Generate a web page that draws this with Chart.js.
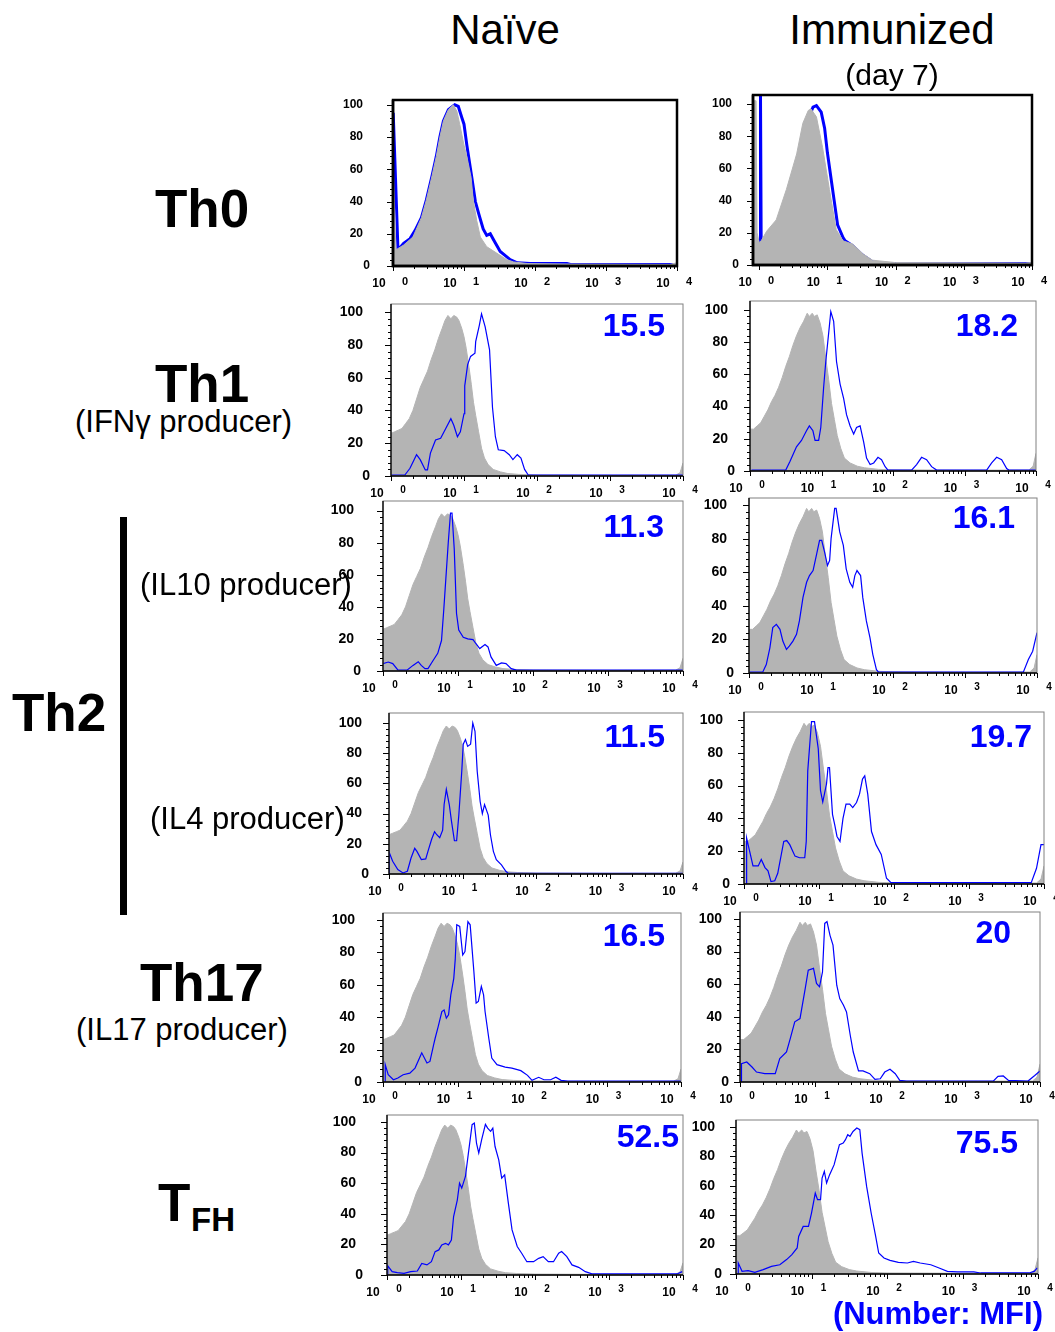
<!DOCTYPE html>
<html>
<head>
<meta charset="utf-8">
<script src="https://cdn.jsdelivr.net/npm/chart.js"></script>
<style>
  body { margin: 0; background: #fff; }
  #fig { position: relative; width: 1055px; height: 1332px; overflow: hidden; background: #fff;
         font-family: "Liberation Sans", Arial, sans-serif; }
  #fig canvas { position: absolute; }
  .lbl { position: absolute; white-space: nowrap; color: #000; }
</style>
</head>
<body>
<div id="fig"></div>
<script>
// x values are in decades (log10 of fluorescence), y is % of max
const yTicks = [0, 20, 40, 60, 80, 100];
const xDecades = [0, 1, 2, 3, 4];
const mfiValues = ['15.5', '18.2', '11.3', '16.1', '11.5', '19.7', '16.5', '20', '52.5', '75.5'];

// isotype control (grey) histograms
const ctrlNaive = [[0,26],[0.05,27],[0.1,28],[0.15,29],[0.2,32],[0.25,35],[0.3,40],[0.35,47],[0.4,54],[0.45,59],[0.5,64],[0.55,71],[0.6,77],[0.65,84],[0.7,90],[0.74,95],[0.78,98],[0.82,96],[0.86,98],[0.9,97],[0.93,95],[0.97,90],[1.0,85],[1.03,78],[1.07,66],[1.1,56],[1.13,45],[1.16,37],[1.2,27],[1.24,17],[1.28,11],[1.33,7],[1.4,4],[1.5,2.5],[1.6,1.5],[1.75,1],[2.0,0.6],[3.0,0.4],[3.9,0.5],[3.96,2],[4.0,8]];
const ctrlImmunized = [[0,26],[0.05,26],[0.1,28],[0.15,30],[0.2,34],[0.25,38],[0.3,43],[0.35,47],[0.4,52],[0.45,58],[0.5,65],[0.55,71],[0.6,78],[0.65,84],[0.7,89],[0.75,93],[0.8,98],[0.83,96],[0.87,98],[0.9,96],[0.94,97],[0.98,92],[1.02,84],[1.06,70],[1.1,57],[1.14,42],[1.18,32],[1.22,22],[1.27,14],[1.32,8],[1.4,5],[1.5,3],[1.6,2],[1.8,1],[2.0,0.7],[3.0,0.5],[3.9,0.6],[3.96,3],[4.0,11]];
const th0NaiveCtrl = [[0,68],[0.02,40],[0.04,10],[0.15,13],[0.28,18],[0.4,30],[0.47,41],[0.55,56],[0.61,68],[0.66,80],[0.71,90],[0.78,97],[0.85,100],[0.9,96],[0.94,88],[1.0,75],[1.04,68],[1.1,55],[1.13,41],[1.18,28],[1.23,18],[1.32,12],[1.46,8],[1.6,4],[1.7,2.5],[1.9,1.5],[2.5,1.2],[3.9,1],[4.0,2]];
const th0ImmCtrl = [[-0.09,102],[-0.045,102],[-0.03,20],[0,14],[0.03,15],[0.11,21],[0.25,28],[0.4,47],[0.55,69],[0.64,88],[0.72,96],[0.76,97],[0.84,92],[0.93,73],[1.03,47],[1.13,22],[1.23,15],[1.37,13],[1.52,7],[1.66,3],[2.0,1.5],[3.9,1.2],[4.0,1.5]];

// stained (blue) histograms
const th0NaiveStim = [[0,0],[0.003,95],[0.07,10],[0.15,14],[0.24,17],[0.31,22],[0.4,30],[0.47,41],[0.55,56],[0.61,68],[0.66,80],[0.71,90],[0.78,97],[0.87,100],[0.92,99],[0.97,92],[1.0,88],[1.04,75],[1.11,55],[1.16,40],[1.21,32],[1.27,23],[1.32,19],[1.37,20],[1.42,16],[1.51,9],[1.65,4],[1.75,2],[1.93,1.5],[2.45,1.5],[2.5,1],[4,1]];
const th0ImmStim = [[0.02,0],[0.02,105],[0.03,13],[0.1,17],[0.25,23],[0.4,41],[0.55,62],[0.64,81],[0.72,91],[0.79,98],[0.84,99],[0.91,95],[0.96,85],[1.0,70],[1.05,55],[1.1,40],[1.15,25],[1.23,17],[1.26,15],[1.37,12],[1.52,6],[1.66,2],[1.8,1],[4.0,1]];
const th1NaiveStim = [[0,0.6],[0.19,0.6],[0.26,4.7],[0.35,13],[0.4,10],[0.47,3.7],[0.5,3.7],[0.54,14],[0.61,22],[0.68,23],[0.75,29],[0.82,35],[0.86,31],[0.91,24],[0.95,27],[1.0,38],[1.01,55],[1.05,68],[1.09,73],[1.15,75],[1.16,82],[1.21,92],[1.24,99],[1.29,91],[1.35,77],[1.39,42],[1.43,24],[1.47,16],[1.55,15.5],[1.62,13],[1.67,10],[1.73,13],[1.78,11],[1.83,4],[1.88,0.6],[4.0,0.5]];
const th1ImmStim = [[0.02,0.6],[0.5,0.6],[0.56,6],[0.65,15],[0.72,19],[0.79,25],[0.83,28],[0.88,25],[0.91,19],[0.96,19],[0.99,27],[1.03,52],[1.06,68],[1.11,90],[1.13,99],[1.17,93],[1.21,68],[1.26,54],[1.31,45],[1.35,35],[1.4,28],[1.45,23],[1.49,27],[1.54,28],[1.59,18],[1.63,8],[1.68,4],[1.73,5],[1.79,8.5],[1.84,7],[1.89,2.7],[1.93,0.6],[2.26,0.6],[2.33,4],[2.4,8.5],[2.47,7],[2.54,2.7],[2.61,0.6],[3.31,0.6],[3.38,5],[3.45,8.5],[3.52,7],[3.59,1.5],[3.62,0.6],[4.0,0.6]];
const il10NaiveStim = [[0,4.6],[0.07,5.6],[0.13,4.6],[0.2,0.5],[0.32,0.5],[0.4,3.5],[0.47,5.8],[0.51,3.5],[0.56,1.5],[0.6,1.5],[0.67,6.7],[0.73,11],[0.78,19],[0.81,38],[0.84,59],[0.87,80],[0.9,98.5],[0.92,98.5],[0.95,76],[0.98,36],[1.01,25.5],[1.07,21],[1.13,20],[1.2,19.6],[1.24,17],[1.29,14],[1.36,16.5],[1.4,15],[1.44,8.8],[1.51,3.5],[1.58,5],[1.64,4.6],[1.71,1.5],[1.78,0.5],[4.0,0.5]];
const il10ImmStim = [[0.01,0.5],[0.19,0.5],[0.24,5],[0.29,15],[0.33,27],[0.38,29],[0.43,26],[0.47,19],[0.52,14],[0.56,16],[0.61,19],[0.66,23],[0.7,31],[0.75,45],[0.8,54],[0.84,58],[0.89,61],[0.94,71],[0.98,79],[1.01,79],[1.05,72],[1.09,64],[1.12,67],[1.14,80],[1.19,98],[1.21,98],[1.26,84],[1.31,76],[1.35,62],[1.4,54],[1.44,51],[1.47,58],[1.5,61],[1.55,58],[1.58,45],[1.63,31],[1.68,21],[1.72,11],[1.77,2],[1.8,0.5],[3.81,0.5],[3.88,8],[3.94,13],[4.0,24]];
const il4NaiveStim = [[0,0],[0.005,14],[0.05,8.4],[0.12,3],[0.19,0.7],[0.25,1.8],[0.3,10.6],[0.35,17],[0.38,15],[0.44,9.5],[0.5,10],[0.53,15],[0.58,23],[0.62,28],[0.65,26],[0.69,24],[0.73,29],[0.75,46],[0.78,56],[0.82,46],[0.85,35],[0.89,22],[0.92,22],[0.95,39],[0.99,68],[1.01,86],[1.04,89],[1.07,84.5],[1.11,86],[1.14,100],[1.17,94.5],[1.2,68],[1.24,48],[1.27,40],[1.3,46],[1.35,39],[1.38,26],[1.42,15],[1.46,9.5],[1.53,6],[1.59,1.8],[1.62,0.5],[4.0,0.5]];
const il4ImmStim = [[0.03,0],[0.035,28],[0.12,11],[0.19,11],[0.23,15],[0.28,10],[0.32,8],[0.36,1.5],[0.41,2],[0.45,6.5],[0.53,26],[0.57,26.5],[0.61,24],[0.68,17],[0.74,16],[0.81,16],[0.83,26],[0.85,69],[0.9,99],[0.94,99],[0.99,82.5],[1.02,57],[1.05,50],[1.1,61],[1.12,71],[1.14,71],[1.18,42.5],[1.21,36],[1.24,29],[1.28,26],[1.32,40],[1.36,48.7],[1.41,48.7],[1.45,46.6],[1.5,49.7],[1.54,54.8],[1.58,64],[1.61,66],[1.65,54.8],[1.7,32],[1.76,24],[1.83,18],[1.9,3.5],[1.96,0.8],[3.83,0.8],[3.9,9.6],[3.96,24],[4.0,24]];
const th17NaiveStim = [[0.03,0],[0.03,10.7],[0.07,4.5],[0.14,1.4],[0.2,2.5],[0.27,4.5],[0.36,5.5],[0.43,8.6],[0.49,14.8],[0.52,18],[0.59,11.7],[0.63,12.7],[0.68,23],[0.7,27],[0.74,34],[0.79,43.5],[0.82,44.5],[0.85,39.4],[0.88,41.5],[0.91,53.8],[0.95,64],[0.97,76],[0.99,97],[1.03,96],[1.07,78.4],[1.1,80.5],[1.14,99],[1.17,97],[1.22,68],[1.25,48.7],[1.28,49.7],[1.32,59],[1.35,53.8],[1.37,43.5],[1.42,27],[1.46,14.8],[1.53,10.7],[1.64,9.2],[1.73,8.6],[1.85,7],[1.94,4.1],[2.0,1],[2.09,2.9],[2.16,1.4],[2.25,1.4],[2.32,2.9],[2.39,1],[2.48,0.5],[4.0,0.5]];
const th17ImmStim = [[0.02,0],[0.02,11.3],[0.09,12.3],[0.16,9.2],[0.22,6.1],[0.33,5.1],[0.47,5.1],[0.53,14.3],[0.62,18.4],[0.67,26.6],[0.73,36.9],[0.8,38.9],[0.87,57.4],[0.91,68.6],[0.98,69.7],[1.02,60.5],[1.06,58.4],[1.1,67.6],[1.13,97.3],[1.16,98.4],[1.2,90],[1.24,84],[1.29,59.4],[1.33,51.2],[1.38,47.1],[1.42,43],[1.47,28.7],[1.51,18.4],[1.58,6.8],[1.64,6.8],[1.73,5.1],[1.8,1.6],[1.87,2],[1.93,6.1],[2.0,7.8],[2.07,5.1],[2.13,1],[2.22,0.6],[3.38,0.6],[3.44,3.5],[3.51,3.7],[3.58,1],[3.84,0.6],[3.93,4],[4.0,6.8]];
const tfhNaiveStim = [[0.01,0],[0.01,6],[0.07,2.2],[0.14,1.5],[0.23,1.1],[0.32,2.2],[0.41,2.6],[0.47,7.6],[0.54,6.6],[0.6,8.7],[0.65,15.3],[0.7,16.4],[0.74,19.7],[0.79,20.7],[0.83,19.7],[0.87,22.9],[0.9,38.2],[0.95,49],[0.98,60],[1.01,56.8],[1.06,64.4],[1.1,79.7],[1.15,98.3],[1.18,99.3],[1.21,86],[1.24,79.7],[1.28,88.6],[1.33,98.5],[1.36,96],[1.4,93.9],[1.43,96],[1.46,84],[1.51,75.3],[1.55,63.3],[1.59,65.5],[1.64,47],[1.69,29.5],[1.76,18.6],[1.82,14.2],[1.89,8.7],[1.98,8.7],[2.05,10.9],[2.11,12],[2.18,8.7],[2.25,8.7],[2.32,14.2],[2.36,15.3],[2.43,12],[2.5,6.6],[2.59,5],[2.68,2.2],[2.77,0.7],[3.92,0.7],[3.99,2.2]];
const tfhImmStim = [[0.03,0],[0.03,7.5],[0.08,1.8],[0.16,2.3],[0.25,1.1],[0.36,3],[0.47,5.2],[0.58,6.3],[0.67,9.8],[0.74,13.2],[0.81,17.7],[0.83,25.6],[0.89,32.4],[0.96,32.4],[1.0,41.5],[1.05,55],[1.08,50.6],[1.12,50.6],[1.14,65.3],[1.17,69.8],[1.2,61.9],[1.24,67.6],[1.27,71],[1.3,74.4],[1.34,82.3],[1.37,88],[1.42,89.1],[1.45,91.4],[1.48,94.8],[1.51,93.7],[1.55,97],[1.6,99.3],[1.64,98.2],[1.67,82.3],[1.73,59.6],[1.79,41.5],[1.85,25.6],[1.89,14.3],[1.96,10.9],[2.04,9.3],[2.15,7.9],[2.27,7.5],[2.35,8.6],[2.44,7.5],[2.58,6.3],[2.69,4.1],[2.8,1.8],[2.93,1.4],[3.15,1.4],[3.24,0.7],[3.88,0.7],[3.95,1.8],[3.99,4.1]];

// panel layout: plot box [left, top, right, bottom] in page pixels
const panels = [
  { box: [393, 100, 677, 266], ymax: 103, xmin: 0, ctrl: th0NaiveCtrl, stim: th0NaiveStim, thick: true, gap: 30 },
  { box: [753, 95, 1032, 265], ymax: 105.6, xmin: -0.09, ctrl: th0ImmCtrl, stim: th0ImmStim, thick: true, gap: 21 },
  { box: [391, 304, 683, 476], ymax: 105, ctrl: ctrlNaive, stim: th1NaiveStim, gap: 28, mfi: 0, mfiAt: [665, 336] },
  { box: [750, 301, 1036, 471], ymax: 105.6, ctrl: ctrlImmunized, stim: th1ImmStim, gap: 22, mfi: 1, mfiAt: [1018, 336] },
  { box: [383, 501, 683, 671], ymax: 106, ctrl: ctrlNaive, stim: il10NaiveStim, gap: 29, mfi: 2, mfiAt: [664, 537] },
  { box: [749, 498, 1037, 673], ymax: 104.2, ctrl: ctrlImmunized, stim: il10ImmStim, gap: 22, mfi: 3, mfiAt: [1015, 528] },
  { box: [389, 713, 683, 874], ymax: 106.6, ctrl: ctrlNaive, stim: il4NaiveStim, gap: 27, mfi: 4, mfiAt: [665, 747] },
  { box: [744, 712, 1044, 884], ymax: 104.9, ctrl: ctrlImmunized, stim: il4ImmStim, gap: 21, mfi: 5, mfiAt: [1032, 747] },
  { box: [383, 913, 681, 1082], ymax: 104.3, ctrl: ctrlNaive, stim: th17NaiveStim, gap: 28, mfi: 6, mfiAt: [665, 946] },
  { box: [740, 912, 1040, 1082], ymax: 104.3, ctrl: ctrlImmunized, stim: th17ImmStim, gap: 18, mfi: 7, mfiAt: [1011, 943] },
  { box: [387, 1115, 683, 1275], ymax: 104.6, ctrl: ctrlNaive, stim: tfhNaiveStim, gap: 31, mfi: 8, mfiAt: [679, 1147] },
  { box: [736, 1120, 1038, 1274], ymax: 104.8, ctrl: ctrlImmunized, stim: tfhImmStim, gap: 21, mfi: 9, mfiAt: [1018, 1153] }
];

const FONT = '"Liberation Sans", Arial, sans-serif';
const PAD = { left: 62, right: 22, top: 12, bottom: 32 };
const fig = document.getElementById('fig');

function label(text, x, baseline, size, opts = {}) {
  const d = document.createElement('div');
  d.className = 'lbl';
  d.textContent = text;
  d.style.fontSize = size + 'px';
  d.style.lineHeight = size + 'px';
  d.style.fontWeight = opts.bold ? 'bold' : 'normal';
  if (opts.color) d.style.color = opts.color;
  d.style.top = (baseline - 0.846 * size) + 'px';
  d.style.left = x + 'px';
  if (opts.align === 'center') d.style.transform = 'translateX(-50%)';
  if (opts.align === 'right') d.style.transform = 'translateX(-100%)';
  fig.appendChild(d);
}

// axes, frame and tick labels drawn from the chart's own scales
const facsAxes = {
  id: 'facsAxes',
  afterDatasetsDraw(chart, args, opts) {
    const { ctx, chartArea: a, scales: { x, y } } = chart;
    const thick = opts.thick;
    ctx.save();
    ctx.strokeStyle = thick ? '#000' : '#808080';
    ctx.lineWidth = thick ? 2.5 : 1;
    ctx.strokeRect(a.left, a.top, a.right - a.left, a.bottom - a.top);
    ctx.strokeStyle = '#000';
    ctx.lineWidth = thick ? 2.5 : 1.3;
    ctx.beginPath();
    ctx.moveTo(a.left, a.top);
    ctx.lineTo(a.left, a.bottom);
    ctx.lineTo(a.right, a.bottom);
    ctx.stroke();

    // y ticks
    ctx.lineWidth = 1;
    for (let v = 0; v <= 100; v += 4) {
      const py = Math.round(y.getPixelForValue(v)) + 0.5;
      const len = v % 20 === 0 ? 6 : 3;
      ctx.beginPath();
      ctx.moveTo(a.left - len, py);
      ctx.lineTo(a.left, py);
      ctx.stroke();
    }
    ctx.fillStyle = '#000';
    ctx.font = 'bold ' + (thick ? 12 : 14) + 'px ' + FONT;
    ctx.textAlign = 'right';
    ctx.textBaseline = 'middle';
    yTicks.forEach(v => {
      const gap = v === 0 ? opts.gap - 7 : opts.gap;
      ctx.fillText(String(v), a.left - gap, y.getPixelForValue(v));
    });

    // x ticks (log decades + minor)
    xDecades.forEach(d => {
      const px = Math.round(x.getPixelForValue(d)) + 0.5;
      ctx.beginPath();
      ctx.moveTo(px, a.bottom);
      ctx.lineTo(px, a.bottom + 5);
      ctx.stroke();
      if (d < 4) {
        for (let k = 2; k <= 9; k++) {
          const mx = Math.round(x.getPixelForValue(d + Math.log10(k))) + 0.5;
          ctx.beginPath();
          ctx.moveTo(mx, a.bottom);
          ctx.lineTo(mx, a.bottom + 3);
          ctx.stroke();
        }
      }
    });
    ctx.textAlign = 'center';
    xDecades.forEach(d => {
      const px = x.getPixelForValue(d);
      ctx.font = 'bold 12px ' + FONT;
      ctx.fillText('10', px - 14, a.bottom + 18);
      ctx.font = 'bold ' + (thick ? 11 : 10) + 'px ' + FONT;
      ctx.fillText(String(d), px + 12, a.bottom + (thick ? 16 : 14));
    });
    ctx.restore();
  }
};

Chart.defaults.font.family = FONT;

panels.forEach((p, i) => {
  const [L, T, R, B] = p.box;
  const c = document.createElement('canvas');
  const w = R - L + PAD.left + PAD.right;
  const h = B - T + PAD.top + PAD.bottom;
  c.width = w; c.height = h;
  c.style.width = w + 'px'; c.style.height = h + 'px';
  c.style.left = (L - PAD.left) + 'px';
  c.style.top = (T - PAD.top) + 'px';
  fig.appendChild(c);
  new Chart(c, {
    type: 'line',
    data: {
      datasets: [
        { label: 'stained', data: p.stim, borderColor: '#0000ff', borderWidth: p.thick ? 3 : 1.2,
          fill: false, pointRadius: 0, tension: 0, order: p.thick ? 1 : 0 },
        { label: 'control', data: p.ctrl, borderColor: '#b4b4b4', borderWidth: 1, backgroundColor: '#b4b4b4',
          fill: 'origin', pointRadius: 0, tension: 0, order: p.thick ? 0 : 1 }
      ]
    },
    options: {
      responsive: false, animation: false, events: [],
      layout: { padding: PAD },
      plugins: { legend: { display: false }, tooltip: { enabled: false },
                 facsAxes: { thick: !!p.thick, gap: p.gap } },
      scales: {
        x: { type: 'linear', min: p.xmin || 0, max: 4, display: false },
        y: { type: 'linear', min: 0, max: p.ymax, display: false }
      }
    },
    plugins: [facsAxes]
  });
  if (p.mfi !== undefined) {
    label(mfiValues[p.mfi], p.mfiAt[0], p.mfiAt[1], 32, { bold: true, color: '#0000ff', align: 'right' });
  }
});

// titles and row labels
label('Naïve', 505, 45, 42, { align: 'center' });
label('Immunized', 892, 45, 42, { align: 'center' });
label('(day 7)', 892, 85, 30, { align: 'center' });
label('Th0', 155, 227, 53, { bold: true });
label('Th1', 155, 402, 53, { bold: true });
label('(IFNγ producer)', 75, 432, 31);
label('Th2', 12, 731, 53, { bold: true });
label('(IL10 producer)', 140, 595, 31);
label('(IL4 producer)', 150, 829, 31);
label('Th17', 140, 1001, 53, { bold: true });
label('(IL17 producer)', 76, 1040, 31);
label('T', 158, 1221, 53, { bold: true });
label('FH', 191, 1231, 33, { bold: true });
label('(Number: MFI)', 1043, 1324, 31, { bold: true, color: '#0000ff', align: 'right' });

const bar = document.createElement('div');
bar.style.cssText = 'position:absolute;left:120px;top:517px;width:7px;height:398px;background:#000;';
fig.appendChild(bar);
</script>
</body>
</html>
